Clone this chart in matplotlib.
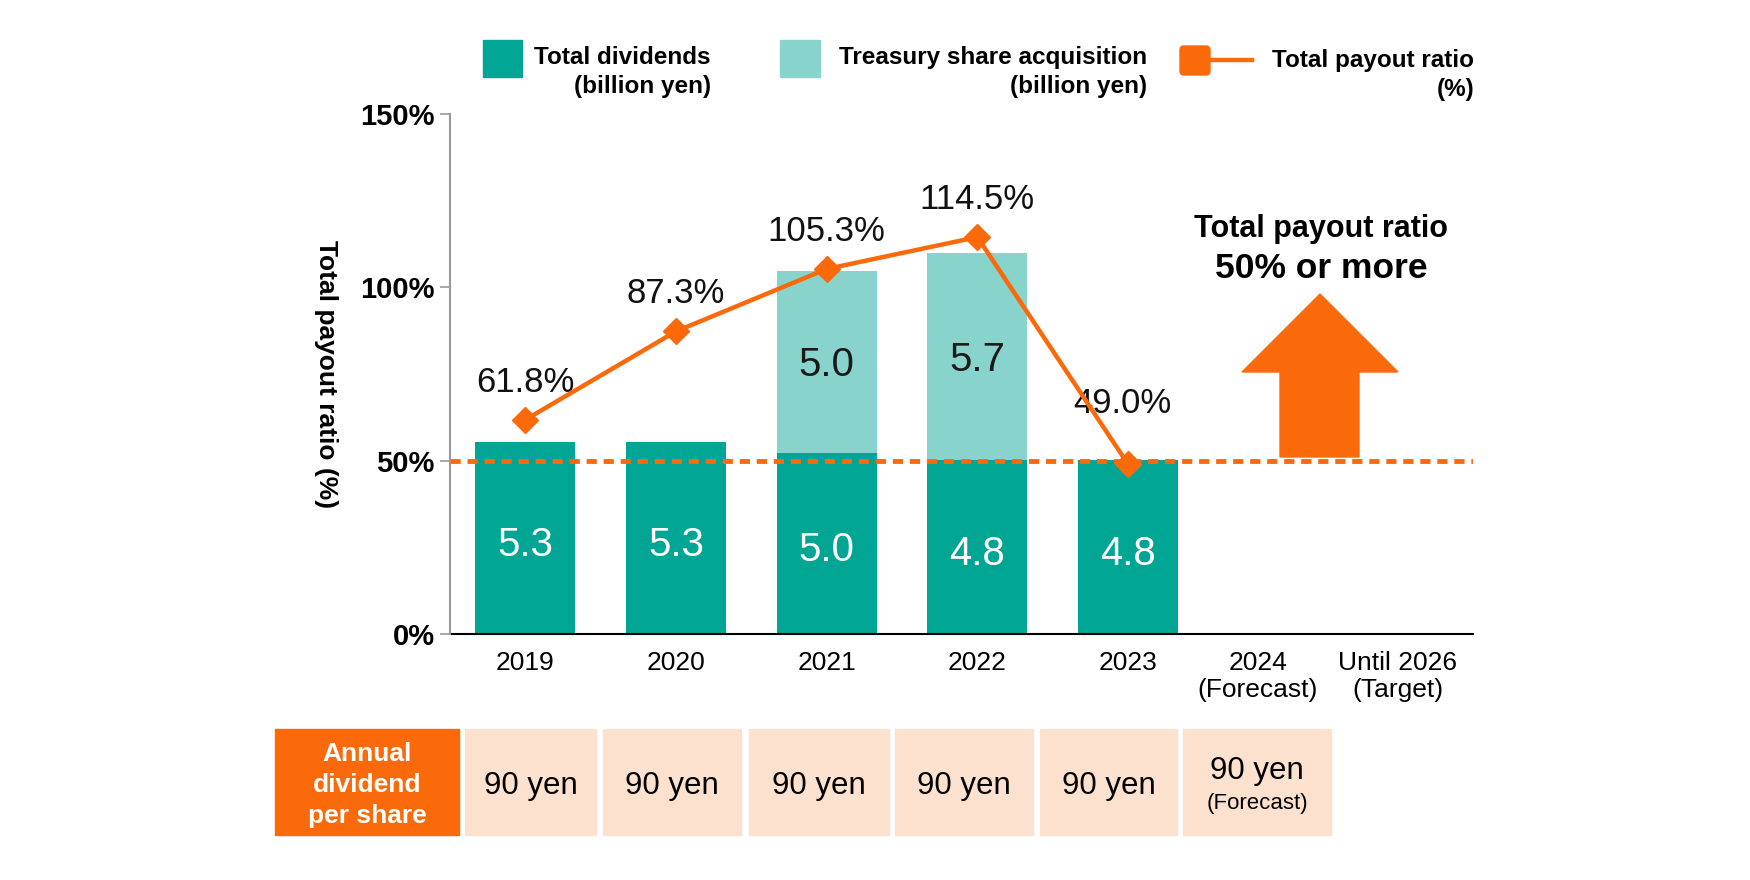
import matplotlib
matplotlib.use("Agg")
import matplotlib.pyplot as plt
from matplotlib.patches import Rectangle, Polygon, FancyBboxPatch

plt.rcParams['font.family'] = ['Liberation Sans', 'DejaVu Sans']

# ---------------- data ----------------
categories = ['2019', '2020', '2021', '2022', '2023', '2024\n(Forecast)', 'Until 2026\n(Target)']
dividends = [5.3, 5.3, 5.0, 4.8, 4.8]          # billion yen
treasury = [0.0, 0.0, 5.0, 5.7, 0.0]           # billion yen
payout = [61.8, 87.3, 105.3, 114.5, 49.0]      # %
target_ratio = 50
yticks = [0, 50, 100, 150]
dps_labels = ['90 yen', '90 yen', '90 yen', '90 yen', '90 yen', '90 yen']
dps_notes = ['', '', '', '', '', '(Forecast)']
legend_labels = ['Total dividends\n(billion yen)', 'Treasury share acquisition\n(billion yen)',
                 'Total payout ratio\n(%)']
target_text = ['Total payout ratio', '50% or more']
table_header = 'Annual\ndividend\nper share'

# ---------------- style ----------------
DARK = '#00A693'
LIGHT = '#88D4CC'
ORANGE = '#FA6A0A'
PEACH = '#FCE1CE'

W, H = 1750, 880
fig = plt.figure(figsize=(W / 100, H / 100), dpi=100)

rect = [450 / W, 1 - 634 / H, (1473 - 450) / W, (634 - 114) / H]
axb = fig.add_axes(rect)
axp = axb.twinx()

n = len(dividends)
xs = list(range(n))
label_pos = [0, 1, 2, 3, 4, 4.86, 5.79]

# bars
bw = 0.665
axb.bar(xs, dividends, width=bw, color=DARK, zorder=2)
axb.bar(xs, treasury, width=bw, bottom=dividends, color=LIGHT, zorder=2)
for x, d, t in zip(xs, dividends, treasury):
    axb.annotate(f'{d:.1f}', (x, d / 2), xytext=(0, -5), textcoords='offset points',
                 ha='center', va='center', color='white', fontsize=29)
    if t > 0:
        axb.annotate(f'{t:.1f}', (x, d + t / 2), xytext=(0, -2.5), textcoords='offset points',
                     ha='center', va='center', color='#1a1a1a', fontsize=29)
axb.set_ylim(0, 14.33)
axb.set_xlim(-0.5, 6.29)
axb.set_yticks([])
axb.set_xticks(label_pos)
axb.set_xticklabels(categories, fontsize=19, linespacing=1.2)
axb.tick_params(axis='x', length=0, pad=12)
for s in ['top', 'right', 'left']:
    axb.spines[s].set_visible(False)
axb.spines['bottom'].set_color('black')
axb.spines['bottom'].set_linewidth(1.5)

# payout ratio line
axp.set_ylim(0, 150)
axp.axhline(target_ratio, color=ORANGE, lw=3.5, ls=(0, (2.1, 1.4)), zorder=3)
axp.plot(xs, payout, color=ORANGE, lw=3.2, marker='D', markersize=13, zorder=4)
for i, (x, v) in enumerate(zip(xs, payout)):
    off = (0, 27) if i < n - 1 else (-4, 44)
    axp.annotate(f'{v:.1f}%', (x, v), xytext=off, textcoords='offset points',
                 ha='center', va='center', fontsize=25, color='#111111')
axp.yaxis.tick_left()
axp.set_yticks(yticks)
axp.set_yticklabels([f'{t}%' for t in yticks], fontsize=21, fontweight='bold')
axp.tick_params(axis='y', length=7, width=1.2, color='#999999', pad=4)
for s in ['top', 'right', 'bottom']:
    axp.spines[s].set_visible(False)
axp.spines['left'].set_color('#999999')
axp.spines['left'].set_linewidth(1.5)
axp.spines['left'].set_bounds(0, 150)

# ---------------- overlay (pixel coordinates) ----------------
ov = fig.add_axes([0, 0, 1, 1], zorder=10)
ov.set_xlim(0, W)
ov.set_ylim(H, 0)
ov.axis('off')
ov.patch.set_alpha(0)

# y label
ov.text(326, 374, 'Total payout ratio (%)', rotation=-90, ha='center', va='center',
        fontsize=19, fontweight='bold')

# legend
ov.add_patch(Rectangle((483, 40), 39, 37, color=DARK))
ov.text(711, 72, legend_labels[0], ha='right', va='center', ma='right', fontsize=17.5,
        fontweight='bold', linespacing=1.28)
ov.add_patch(Rectangle((780, 40), 40, 37, color=LIGHT))
ov.text(1147, 72, legend_labels[1], ha='right', va='center', ma='right', fontsize=17.5,
        fontweight='bold', linespacing=1.28)
ov.plot([1205, 1252], [60, 60], color=ORANGE, lw=3.2)
ov.add_patch(FancyBboxPatch((1180, 46), 30, 29, boxstyle='round,pad=0,rounding_size=4',
                            color=ORANGE))
ov.text(1474, 75, legend_labels[2], ha='right', va='center', ma='right', fontsize=17.5,
        fontweight='bold', linespacing=1.28)

# target arrow + text
ov.add_patch(Polygon([(1280, 457), (1280, 372), (1242, 372), (1320, 294), (1398, 372),
                      (1359, 372), (1359, 457)], closed=True, color=ORANGE, zorder=2))
ov.text(1321, 229, target_text[0], ha='center', va='center', fontsize=22, fontweight='bold')
ov.text(1321, 269, target_text[1], ha='center', va='center', fontsize=25.5, fontweight='bold')

# table
ty0, ty1 = 729, 835
ov.add_patch(Rectangle((275, ty0), 459 - 275, ty1 - ty0, color=ORANGE))
ov.text((275 + 459) / 2, (ty0 + ty1) / 2 + 3, table_header, ha='center', va='center',
        color='white', fontsize=19, fontweight='bold', linespacing=1.38)
cells = [(465, 596), (603, 741), (749, 889), (895, 1033), (1040, 1177), (1183, 1331)]
for (a, b), lab, note in zip(cells, dps_labels, dps_notes):
    ov.add_patch(Rectangle((a, ty0), b - a, ty1 - ty0, color=PEACH))
    cx = (a + b) / 2
    if note:
        ov.text(cx, 771, lab, ha='center', va='center', fontsize=22.5)
        ov.text(cx, 804, note, ha='center', va='center', fontsize=16)
    else:
        ov.text(cx, 786, lab, ha='center', va='center', fontsize=22.5)

fig.savefig('out.png', dpi=100)
